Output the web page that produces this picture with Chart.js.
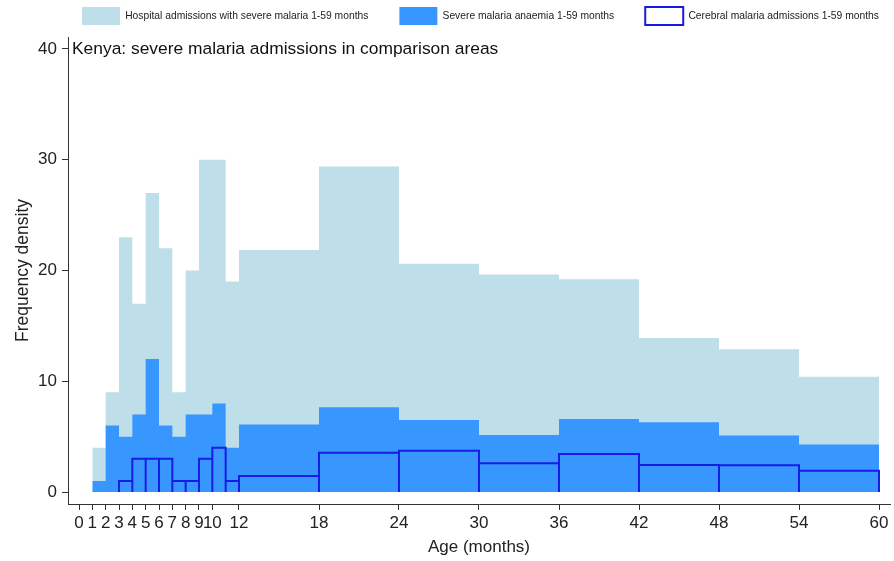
<!DOCTYPE html>
<html><head><meta charset="utf-8">
<style>html,body{margin:0;padding:0;background:#fff;} #wrap{width:894px;height:561px;position:relative;}</style>
<script src="https://cdn.jsdelivr.net/npm/chart.js@4"></script>
</head><body><div id="wrap"><canvas id="c" width="894" height="561"></canvas></div>
<script>
const chartTitle = 'Kenya: severe malaria admissions in comparison areas';
const seriesLabels = ['Hospital admissions with severe malaria 1-59 months', 'Severe malaria anaemia 1-59 months', 'Cerebral malaria admissions 1-59 months'];
const binEdges = [1, 2, 3, 4, 5, 6, 7, 8, 9, 10, 11, 12, 18, 24, 30, 36, 42, 48, 54, 60];
const hospital = [4, 9, 23, 17, 27, 22, 9, 20, 30, 30, 19, 21.85, 29.4, 20.6, 19.65, 19.2, 13.9, 12.9, 10.4];
const anaemia  = [1, 6, 5, 7, 12, 6, 5, 7, 7, 8, 4, 6.1, 7.65, 6.5, 5.15, 6.6, 6.3, 5.1, 4.3];
const cerebral = [null, null, 1, 3, 3, 3, 1, 1, 3, 4, 1, 1.45, 3.55, 3.73, 2.6, 3.43, 2.44, 2.42, 1.93];
const xTicks = [0, 1, 2, 3, 4, 5, 6, 7, 8, 9, 10, 12, 18, 24, 30, 36, 42, 48, 54, 60];
const yTicks = [0, 10, 20, 30, 40];

function trace(values) {
  const pts = [];
  values.forEach((v, i) => {
    if (v == null) return;
    const a = binEdges[i], b = binEdges[i + 1];
    pts.push({x: a, y: 0}, {x: a, y: v}, {x: b, y: v}, {x: b, y: 0});
  });
  return pts;
}

Chart.defaults.font.family = "'Liberation Sans', Arial, sans-serif";
Chart.defaults.color = '#222';

const LIGHT = 'rgb(190,223,233)';
const DARK = 'rgb(56,150,255)';
const OUT = 'rgb(20,28,230)';

const legendFix = {
  id: 'legendFix',
  beforeUpdate(chart) {
    const lg = chart.legend;
    if (lg && !lg.__p) {
      const f = lg.fit.bind(lg);
      lg.fit = function () { f(); this.height = 37; };
      lg.__p = true;
    }
  },
  afterLayout(chart) {
    const lg = chart.legend;
    const p = lg.options.labels.padding;
    lg.left = 82 - p; lg.right = 1400; lg.top = 7 - p; lg.bottom = 40;
  }
};

const titlePlugin = {
  id: 'innerTitle',
  afterDraw(chart) {
    const ctx = chart.ctx;
    ctx.save();
    ctx.font = "17.4px 'Liberation Sans', Arial, sans-serif";
    ctx.fillStyle = '#111';
    ctx.textBaseline = 'middle';
    ctx.textAlign = 'left';
    ctx.fillText(chartTitle, chart.chartArea.left + 4, chart.scales.y.getPixelForValue(40));
    ctx.restore();
  }
};

new Chart(document.getElementById('c'), {
  type: 'line',
  data: {
    datasets: [
      {label: seriesLabels[0], data: trace(hospital), fill: 'origin', backgroundColor: LIGHT, borderColor: 'rgba(0,0,0,0)', borderWidth: 0, pointRadius: 0, tension: 0, order: 3},
      {label: seriesLabels[1], data: trace(anaemia), fill: 'origin', backgroundColor: DARK, borderColor: 'rgba(0,0,0,0)', borderWidth: 0, pointRadius: 0, tension: 0, order: 2},
      {label: seriesLabels[2], data: trace(cerebral), fill: false, backgroundColor: '#fff', borderColor: OUT, borderWidth: 2, borderJoinStyle: 'miter', pointRadius: 0, tension: 0, order: 1}
    ]
  },
  options: {
    responsive: false,
    animation: false,
    devicePixelRatio: 1,
    layout: {padding: {left: 0, right: 4, top: 0, bottom: 0}},
    plugins: {
      legend: {
        position: 'top',
        align: 'start',
        labels: {
          boxWidth: 38, boxHeight: 18, padding: 31,
          font: {size: 10.3}, color: '#222',
          sort: (a, b) => a.datasetIndex - b.datasetIndex
        }
      },
      tooltip: {enabled: false}
    },
    scales: {
      x: {
        type: 'linear', min: -0.825, max: 60.825,
        afterBuildTicks: s => { s.ticks = xTicks.map(v => ({value: v})); },
        afterFit: s => { s.height = 57; },
        ticks: {autoSkip: false, maxRotation: 0, minRotation: 0, font: {size: 17}, color: '#222', padding: 3},
        grid: {drawOnChartArea: false, tickLength: 6, color: '#333', tickColor: '#333'},
        border: {display: true, color: '#333', width: 1},
        title: {display: true, text: 'Age (months)', font: {size: 17}, color: '#222', padding: {top: 0, bottom: 3}}
      },
      y: {
        type: 'linear', min: -1.08, max: 41.08,
        afterBuildTicks: s => { s.ticks = yTicks.map(v => ({value: v})); },
        afterFit: s => { s.width = 68; },
        ticks: {font: {size: 17}, color: '#222', padding: 5},
        grid: {drawOnChartArea: false, tickLength: 6, color: '#333', tickColor: '#333'},
        border: {display: true, color: '#333', width: 1},
        title: {display: true, text: 'Frequency density', font: {size: 17.5}, color: '#222', padding: {top: 13, bottom: 0}}
      }
    }
  },
  plugins: [legendFix, titlePlugin]
});
</script>
</body></html>
